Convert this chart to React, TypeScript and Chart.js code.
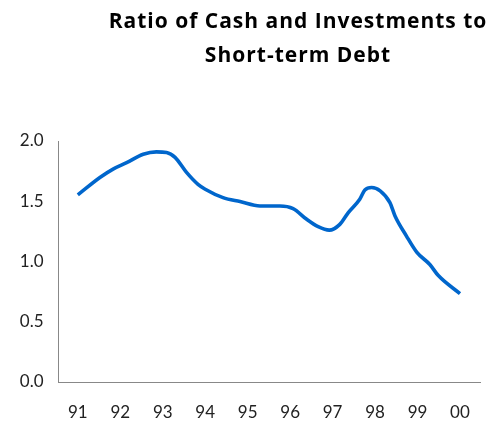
import React, { useEffect, useRef } from "react";
import { Chart, registerables } from "chart.js";

Chart.register(...registerables);

// Traced curve: fractional year (91 = 1991, 100 = 2000) and ratio value
const years = [
  91.0, 91.52, 91.83, 92.15, 92.54, 92.85, 93.09, 93.29, 93.56, 93.83,
  94.0, 94.42, 94.82, 95.29, 95.76, 96.07, 96.39, 96.66, 96.92, 97.17,
  97.37, 97.64, 97.76, 97.92, 98.12, 98.35, 98.47, 98.74, 98.98, 99.29,
  99.49, 100.0,
];
const ratio = [
  1.553, 1.697, 1.767, 1.82, 1.89, 1.91, 1.905, 1.864, 1.739, 1.64,
  1.6, 1.53, 1.497, 1.461, 1.461, 1.439, 1.35, 1.289, 1.26, 1.308,
  1.406, 1.517, 1.594, 1.614, 1.586, 1.489, 1.378, 1.211, 1.078, 0.975,
  0.883, 0.733,
];

const xTickValues = [91, 92, 93, 94, 95, 96, 97, 98, 99, 100];
const xTickLabels = ["91", "92", "93", "94", "95", "96", "97", "98", "99", "00"];
const yTickValues = [0, 0.5, 1.0, 1.5, 2.0];
const yTickLabels = ["0.0", "0.5", "1.0", "1.5", "2.0"];

const titleLines = ["Ratio of Cash and Investments to", "Short-term Debt"];

const titlePlugin = {
  id: "customTitle",
  afterDraw(chart: any) {
    const ctx = chart.ctx;
    ctx.save();
    ctx.fillStyle = "#000";
    ctx.font = "bold 21px 'Open Sans'";
    try {
      (ctx as any).letterSpacing = "1px";
    } catch (e) {}
    ctx.textAlign = "center";
    ctx.textBaseline = "alphabetic";
    ctx.fillText(titleLines[0], 298, 28);
    ctx.fillText(titleLines[1], 298, 62);
    ctx.restore();
  },
};

export default function App() {
  const ref = useRef<HTMLCanvasElement>(null);
  useEffect(() => {
    if (!ref.current) return;
    const chart = new Chart(ref.current, {
      type: "line",
      data: {
        datasets: [
          {
            data: years.map((x, i) => ({ x, y: ratio[i] })),
            borderColor: "#0066CC",
            borderWidth: 3.6,
            pointRadius: 0,
            cubicInterpolationMode: "monotone",
            fill: false,
          },
        ],
      },
      options: {
        animation: false,
        responsive: false,
        maintainAspectRatio: false,
        layout: { padding: { top: 141, left: 0, right: 16.3, bottom: 0 } },
        plugins: {
          legend: { display: false },
          title: { display: false },
          tooltip: { enabled: false },
        },
        scales: {
          x: {
            type: "linear",
            min: 90.545,
            max: 100.488,
            grid: { display: false, drawTicks: false },
            border: { display: true, color: "#888", width: 1 },
            afterBuildTicks: (axis: any) => {
              axis.ticks = xTickValues.map((v) => ({ value: v }));
            },
            afterFit: (scale: any) => {
              scale.height = 42;
            },
            ticks: {
              padding: 20,
              color: "#222",
              font: { family: "Lato", size: 17 },
              maxRotation: 0,
              autoSkip: false,
              callback: (v: any) => {
                const i = xTickValues.indexOf(Number(v));
                return i >= 0 ? xTickLabels[i] : "";
              },
            },
          },
          y: {
            min: 0,
            max: 2,
            grid: { display: false, drawTicks: false },
            border: { display: true, color: "#888", width: 1 },
            afterBuildTicks: (axis: any) => {
              axis.ticks = yTickValues.map((v) => ({ value: v }));
            },
            afterFit: (scale: any) => {
              scale.width = 58.5;
            },
            ticks: {
              padding: 15,
              color: "#222",
              font: { family: "Lato", size: 17 },
              callback: (v: any) => {
                const i = yTickValues.indexOf(Number(v));
                return i >= 0 ? yTickLabels[i] : "";
              },
            },
          },
        },
      },
      plugins: [titlePlugin],
    });
    return () => chart.destroy();
  }, []);
  return (
    <div style={{ position: "fixed", left: 0, top: 0, width: 497, height: 424 }}>
      <canvas ref={ref} width={497} height={424} style={{ display: "block" }} />
    </div>
  );
}
